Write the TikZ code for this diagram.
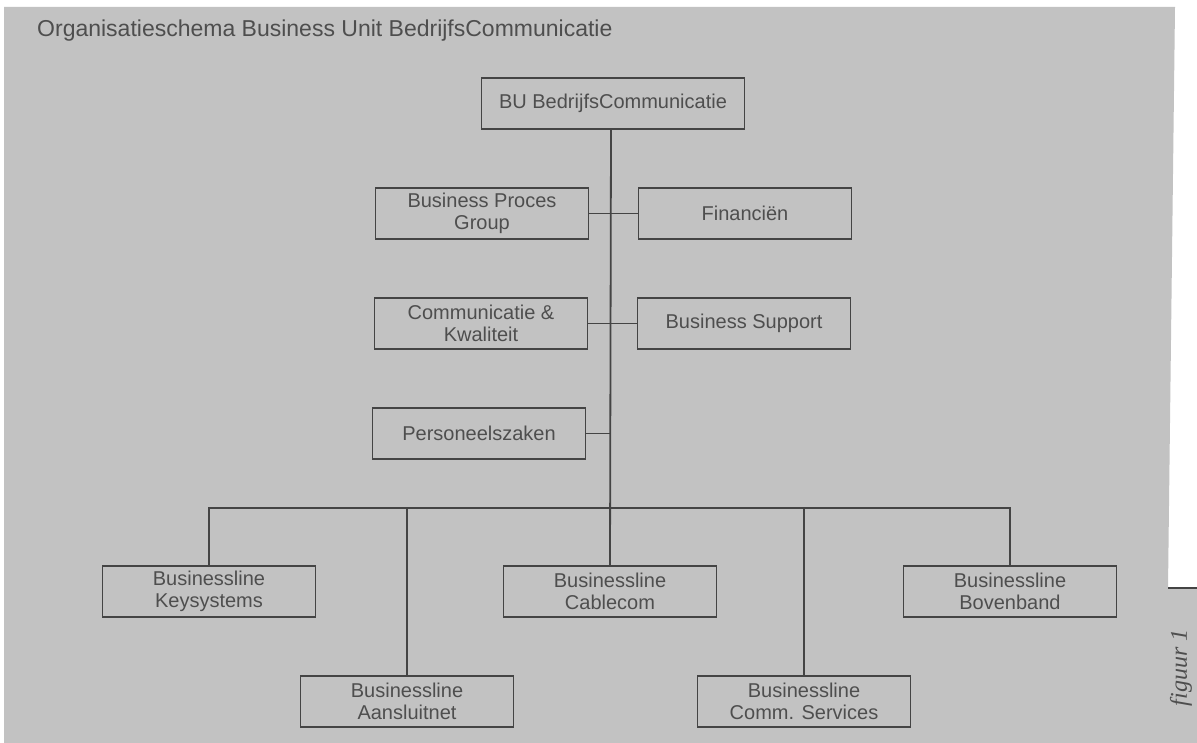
\documentclass[tikz,border=0pt]{standalone}
\usepackage{fontspec}
\setmainfont{Liberation Sans}
\newfontfamily\figfont{Liberation Serif}
\usetikzlibrary{positioning}
\definecolor{paper}{HTML}{C2C2C2}
\definecolor{ink}{HTML}{444444}
\definecolor{label}{HTML}{4E4E4E}

\begin{document}
\begin{tikzpicture}[x=1pt, y=-1pt, node distance=110pt,
  unit/.style={rectangle, draw=ink, line width=1.8pt, minimum width=213pt, minimum height=51pt,
    inner sep=2pt, align=center, text=label, font=\fontsize{20}{22}\selectfont},
  link/.style={draw=ink, line width=1.8pt}]

  \useasboundingbox (0,0) rectangle (1197,743);

  % scanned page background
  \fill[paper] (4,7) -- (1175,7) -- (1168,588) -- (1197,588) -- (1197,743) -- (4,743) -- cycle;
  \draw[ink, line width=1.6pt] (1168,588) -- (1197,588);

  % title and figure label
  \node[anchor=base west, inner sep=0pt, text=label, font=\fontsize{23}{27}\selectfont] (title) at (37,37) {Organisatieschema Business Unit BedrijfsCommunicatie};
  \node[rotate=90, inner sep=0pt, text=label, font=\figfont\itshape\fontsize{24}{28}\selectfont] (figuur) at (1181,668) {figuur 1};

  % top of the business unit
  \node[unit, minimum width=263pt] (BU) at (613,103.5) {BU BedrijfsCommunicatie};

  % staff departments beside the main line
  \node[unit, below of=BU, xshift=-131pt] (ProcesGroup) {Business Proces\\ Group};
  \node[unit, below of=BU, xshift=132pt] (Financien) {Financiën};
  \node[unit, below of=ProcesGroup, xshift=-1pt] (Kwaliteit) {Communicatie \&\\ Kwaliteit};
  \node[unit, below of=Financien, xshift=-1pt] (Support) {Business Support};
  \node[unit, below of=Kwaliteit, xshift=-2pt] (Personeel) {Personeelszaken};

  % businesslines under the bus
  \node[unit, below of=Personeel, xshift=131pt, yshift=-48pt] (Cablecom) {Businessline\\ Cablecom};
  \node[unit, left of=Cablecom, xshift=-291pt] (Keysystems) {Businessline\\ Keysystems};
  \node[unit, right of=Cablecom, xshift=290pt] (Bovenband) {Businessline\\ Bovenband};
  \node[unit, below of=Keysystems, xshift=198pt] (Aansluitnet) {Businessline\\ Aansluitnet};
  \node[unit, below of=Bovenband, xshift=-206pt] (CommServices) {Businessline\\ Comm. Services};

  \coordinate (bus) at (611,508);

  % lines of the chart
  \draw[link] (BU.south -| bus) -- (Cablecom.north);
  \draw[link] (ProcesGroup.east) -- (Financien.west);
  \draw[link] (Kwaliteit.east) -- (Support.west);
  \draw[link] (Personeel.east) -- (Personeel.east -| bus);
  \draw[link] (Keysystems.north) |- (bus) -| (Bovenband.north);
  \draw[link] (Aansluitnet.north) -- (Aansluitnet.north |- bus);
  \draw[link] (CommServices.north) -- (CommServices.north |- bus);

\end{tikzpicture}
\end{document}
